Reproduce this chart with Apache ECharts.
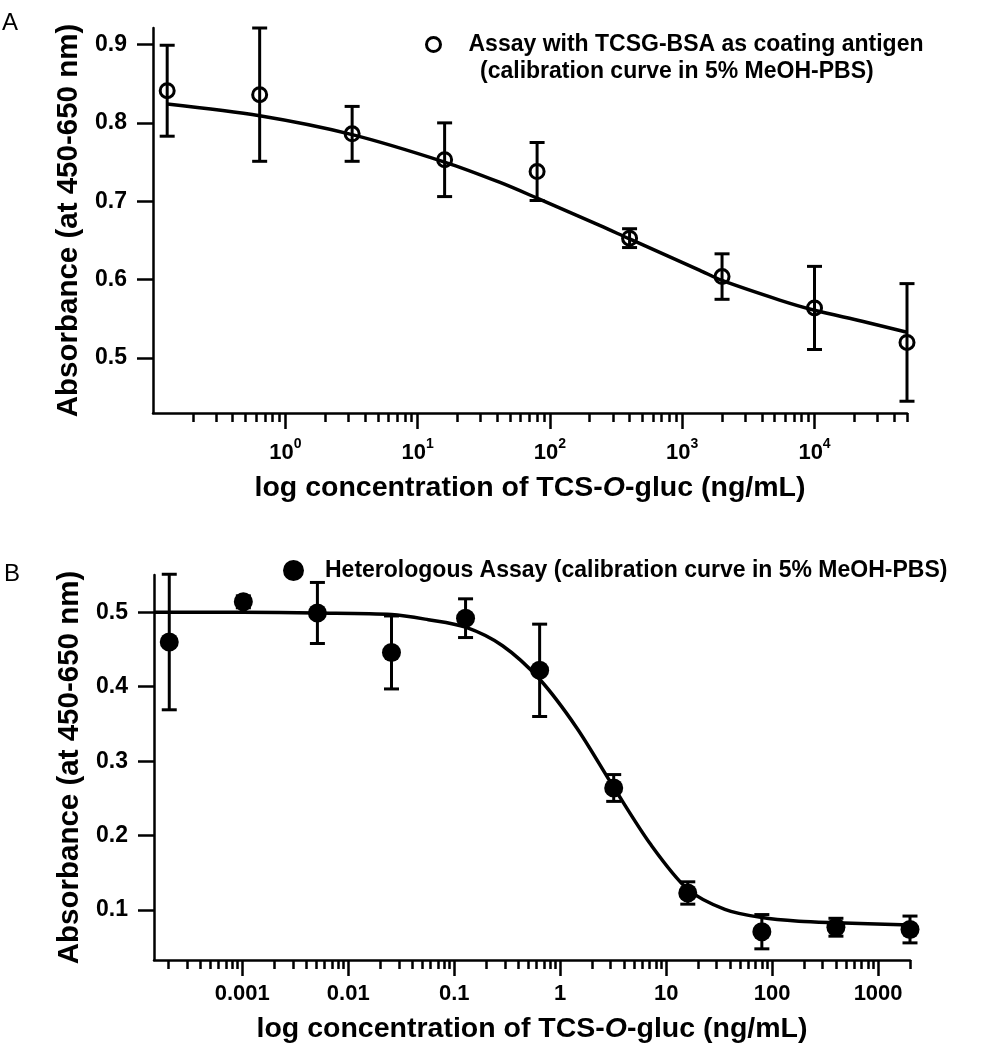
<!DOCTYPE html>
<html><head><meta charset="utf-8">
<script src="https://cdn.jsdelivr.net/npm/echarts@6/dist/echarts.min.js"></script>
<style>html,body{margin:0;padding:0;background:#fff}#c{width:995px;height:1050px}</style>
</head><body><div id="c"></div>
<script>
// ---------- Panel A data ----------
const topConc = [0.128, 0.64, 3.2, 16, 80, 400, 2000, 10000, 50000];
const topMean = [0.841, 0.836, 0.786, 0.753, 0.738, 0.653, 0.604, 0.564, 0.520];
const topErr  = [0.058, 0.085, 0.035, 0.047, 0.037, 0.012, 0.029, 0.053, 0.075];
const topCurveConc = [0.128, 0.64, 3.2, 16, 42, 80, 240, 400, 1360, 2000, 5450, 10000, 22900, 50000];
const topCurveVal  = [0.824, 0.809, 0.785, 0.750, 0.724, 0.704, 0.669, 0.652, 0.612, 0.599, 0.574, 0.561, 0.547, 0.533];
const topTickValues = [1, 10, 100, 1000, 10000];
const topYTicks = [0.5, 0.6, 0.7, 0.8, 0.9];
const topName = 'Assay with TCSG-BSA as coating antigen';
const topName2 = '(calibration curve in 5% MeOH-PBS)';

// ---------- Panel B data ----------
const botConc = [0.0002048, 0.001024, 0.00512, 0.0256, 0.128, 0.64, 3.2, 16, 80, 400, 2000];
const botMean = [0.460, 0.514, 0.499, 0.446, 0.492, 0.422, 0.264, 0.123, 0.071, 0.077, 0.074];
const botErr  = [0.091, 0.008, 0.041, 0.049, 0.026, 0.062, 0.018, 0.015, 0.023, 0.012, 0.018];
const botCurveConc = [0.000147, 0.001, 0.005, 0.0256, 0.057, 0.128, 0.286, 0.64, 1.43, 3.2, 7.16, 16, 35.8, 80, 179, 400, 2000];
const botCurveVal  = [0.500, 0.500, 0.499, 0.497, 0.490, 0.480, 0.455, 0.410, 0.345, 0.265, 0.188, 0.128, 0.101, 0.090, 0.085, 0.083, 0.080];
const botTickValues = [0.001, 0.01, 0.1, 1, 10, 100, 1000];
const botTickLabels = ['0.001', '0.01', '0.1', '1', '10', '100', '1000'];
const botYTicks = [0.1, 0.2, 0.3, 0.4, 0.5];
const botName = 'Heterologous Assay (calibration curve in 5% MeOH-PBS)';

const xTitle = 'log concentration of TCS-{i|O}-gluc (ng/mL)';
const yTitle = 'Absorbance (at 450-650 nm)';

// ---------- helpers ----------
const FONT = '"Liberation Sans", Arial, sans-serif';
const L = Math.log10;
function minorTicks(minL, maxL) {
  const out = [];
  for (let d = Math.floor(minL) - 1; d <= Math.ceil(maxL); d++) {
    for (let k = 2; k <= 9; k++) {
      const v = L(k) + d;
      if (v >= minL - 1e-9 && v <= maxL + 1e-9) out.push(v);
    }
  }
  return out;
}
const topX = [L(0.1), L(50000)];
const botX = [L(0.000147), L(2000)];
const topY = [0.430, 0.921];
const botY = [0.033, 0.550];

function errRender(params, api) {
  const x = api.value(0), lo = api.value(1), hi = api.value(2);
  const a = api.coord([x, hi]), b = api.coord([x, lo]);
  const hw = 7.5, st = {stroke: '#000', lineWidth: 3};
  return {type: 'group', children: [
    {type: 'line', shape: {x1: a[0], y1: a[1], x2: b[0], y2: b[1]}, style: st},
    {type: 'line', shape: {x1: a[0]-hw, y1: a[1], x2: a[0]+hw, y2: a[1]}, style: st},
    {type: 'line', shape: {x1: b[0]-hw, y1: b[1], x2: b[0]+hw, y2: b[1]}, style: st}
  ]};
}

const axisLineStyle = {lineStyle: {color: '#000', width: 2.5}};
const tickStyle = {color: '#000', width: 2.5};
function titleStyle(fs) {
  return {fontFamily: FONT, fontSize: fs, fontWeight: 'bold', color: '#000',
    rich: {i: {fontFamily: FONT, fontSize: fs, fontWeight: 'bold', fontStyle: 'italic', color: '#000'}}};
}

function majorX(grid, ext, ticks, fmt, rich, margin, gap) {
  return {
    type: 'value', gridIndex: grid, position: 'bottom', min: ext[0], max: ext[1],
    axisLine: Object.assign({show: true, onZero: false}, axisLineStyle),
    axisTick: {show: true, length: 16, lineStyle: tickStyle, customValues: ticks},
    axisLabel: {show: true, customValues: ticks, formatter: fmt, margin: margin,
      fontFamily: FONT, fontSize: 22, fontWeight: 'bold', color: '#000', rich: rich},
    splitLine: {show: false},
    name: xTitle, nameLocation: 'middle', nameGap: gap, nameTextStyle: titleStyle(28.5)
  };
}
function minorX(grid, ext) {
  return {
    type: 'value', gridIndex: grid, position: 'bottom', min: ext[0], max: ext[1],
    axisLine: {show: false, onZero: false},
    axisTick: {show: true, length: 9, lineStyle: tickStyle, customValues: minorTicks(ext[0], ext[1])},
    axisLabel: {show: false}, splitLine: {show: false}
  };
}
function yAx(grid, ext, ticks) {
  return {
    type: 'value', gridIndex: grid, min: ext[0], max: ext[1],
    axisLine: Object.assign({show: true, onZero: false}, axisLineStyle),
    axisTick: {show: true, length: 16, lineStyle: tickStyle, customValues: ticks},
    axisLabel: {show: true, customValues: ticks, margin: 26, formatter: v => v.toFixed(1),
      fontFamily: FONT, fontSize: 23, fontWeight: 'bold', color: '#000'},
    splitLine: {show: false},
    name: yTitle, nameLocation: 'middle', nameGap: 69, nameTextStyle: titleStyle(29.5)
  };
}

const option = {
  animation: false,
  backgroundColor: '#fff',
  textStyle: {fontFamily: FONT, color: '#000'},
  title: [
    {text: 'A', left: 2, top: 11, padding: 0, textStyle: {fontFamily: FONT, fontSize: 24, fontWeight: 'normal', color: '#000'}},
    {text: 'B', left: 4, top: 562, padding: 0, textStyle: {fontFamily: FONT, fontSize: 24, fontWeight: 'normal', color: '#000'}},
    {text: topName2, left: 480, top: 60, padding: 0, textStyle: {fontFamily: FONT, fontSize: 23, fontWeight: 'bold', color: '#000'}}
  ],
  legend: [
    {data: [topName], left: 425, top: 33, padding: 0, icon: 'circle', itemWidth: 14, itemHeight: 14,
      itemStyle: {color: 'rgba(0,0,0,0)', borderColor: '#000', borderWidth: 3},
      textStyle: {fontFamily: FONT, fontSize: 23, fontWeight: 'bold', color: '#000', padding: [0, 0, 0, 23]}},
    {data: [botName], left: 283, top: 559, padding: 0, icon: 'circle', itemWidth: 21, itemHeight: 21,
      itemStyle: {color: '#000', borderWidth: 0},
      textStyle: {fontFamily: FONT, fontSize: 23, fontWeight: 'bold', color: '#000', padding: [0, 0, 0, 16]}}
  ],
  grid: [
    {left: 153, top: 28, width: 754, height: 385, containLabel: false, outerBoundsMode: 'none'},
    {left: 154, top: 575, width: 756, height: 385, containLabel: false, outerBoundsMode: 'none'}
  ],
  xAxis: [
    majorX(0, topX, topTickValues.map(L), v => '{b|10}{s|' + Math.round(v) + '}',
      {b: {fontFamily: FONT, fontSize: 22, fontWeight: 'bold', color: '#000', lineHeight: 22, padding: [9, 0, 0, 0]},
       s: {fontFamily: FONT, fontSize: 14, fontWeight: 'bold', color: '#000', lineHeight: 14, verticalAlign: 'top'}}, 24, 61),
    minorX(0, topX),
    majorX(1, botX, botTickValues.map(L), v => botTickLabels[botTickValues.map(L).findIndex(t => Math.abs(t - v) < 1e-6)], undefined, 23, 55),
    minorX(1, botX)
  ],
  yAxis: [yAx(0, topY, topYTicks), yAx(1, botY, botYTicks)],
  series: [
    {type: 'line', name: 'fitA', xAxisIndex: 0, yAxisIndex: 0, smooth: 0.3, showSymbol: false, symbol: 'none',
      lineStyle: {color: '#000', width: 3.5}, z: 2,
      data: topCurveConc.map((c, i) => [L(c), topCurveVal[i]])},
    {type: 'custom', name: 'errA', xAxisIndex: 0, yAxisIndex: 0, renderItem: errRender, z: 3,
      encode: {x: 0, y: [1, 2]},
      data: topConc.map((c, i) => [L(c), topMean[i] - topErr[i], topMean[i] + topErr[i]])},
    {type: 'scatter', name: topName, xAxisIndex: 0, yAxisIndex: 0, symbol: 'circle', symbolSize: 14, z: 4,
      itemStyle: {color: 'rgba(0,0,0,0)', borderColor: '#000', borderWidth: 3, opacity: 1},
      data: topConc.map((c, i) => [L(c), topMean[i]])},

    {type: 'line', name: 'fitB', xAxisIndex: 2, yAxisIndex: 1, smooth: 0.3, showSymbol: false, symbol: 'none',
      lineStyle: {color: '#000', width: 3.5}, z: 2,
      data: botCurveConc.map((c, i) => [L(c), botCurveVal[i]])},
    {type: 'custom', name: 'errB', xAxisIndex: 2, yAxisIndex: 1, renderItem: errRender, z: 3,
      encode: {x: 0, y: [1, 2]},
      data: botConc.map((c, i) => [L(c), botMean[i] - botErr[i], botMean[i] + botErr[i]])},
    {type: 'scatter', name: botName, xAxisIndex: 2, yAxisIndex: 1, symbol: 'circle', symbolSize: 19, z: 4,
      itemStyle: {color: '#000', opacity: 1},
      data: botConc.map((c, i) => [L(c), botMean[i]])}
  ]
};
const chart = echarts.init(document.getElementById('c'));
chart.setOption(option);
</script>
</body></html>
